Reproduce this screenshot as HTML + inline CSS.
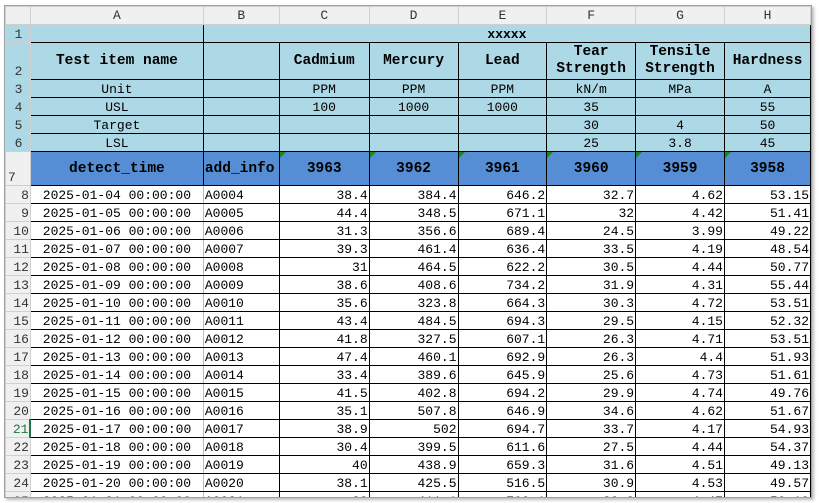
<!DOCTYPE html>
<html><head><meta charset="utf-8"><style>
body{margin:0;width:819px;height:503px;background:#fff;overflow:hidden;position:relative;font-family:"Liberation Mono","Noto Sans CJK SC",monospace;font-size:13px;}
.frame{position:absolute;left:4px;top:5px;width:806px;height:491px;overflow:hidden;border:1px solid #a0a0a0;box-shadow:2px 2px 3px #bbb;background:#fff}
table{border-collapse:collapse;table-layout:fixed;position:absolute;left:0;top:0}
td{padding:0 1px;white-space:nowrap;overflow:hidden;border:1px solid #000;line-height:14px}
tr.h td{background:#f0f0f0;border:1px solid #d0d0d0;text-align:center;color:#333;height:17px}
td.rh{background:#f0f0f0;border:1px solid #d0d0d0;color:#333;text-align:left;padding-left:2px;vertical-align:bottom;font-weight:normal;font-size:13px}
.lb td{background:#add8e6;text-align:center;vertical-align:bottom}
.b{font-weight:bold;font-size:14.5px}
.db td{background:#558ed5;font-weight:bold;font-size:14.5px;text-align:center;vertical-align:middle}
.db td.rh{background:#f0f0f0;font-weight:normal;font-size:13px;text-align:left;vertical-align:bottom}
.d td{height:17px;text-align:right;vertical-align:bottom}
.d td.a{text-align:center;border-right:1px solid #bbb}
.d td.bb{text-align:left;border-left:1px solid #bbb}
.tri{position:relative}
.tri:before{content:"";position:absolute;left:0;top:0;border-top:6px solid #1a8a1a;border-right:6px solid transparent}
</style></head><body><div class="frame">
<table>
<colgroup><col style="width:25px"><col style="width:173px"><col style="width:76px"><col style="width:90px"><col style="width:89px"><col style="width:89px"><col style="width:89px"><col style="width:89px"><col style="width:86px"></colgroup>
<tr class="h"><td></td><td>A</td><td>B</td><td>C</td><td>D</td><td>E</td><td>F</td><td>G</td><td>H</td></tr>
<tr class="lb" style="height:18px"><td class="rh">1</td><td style="border-right:1px solid #000;border-bottom:1px solid #000"></td><td colspan="7" class="b" style="text-align:center;font-size:13px">xxxxx</td></tr>
<tr class="lb" style="height:37px"><td class="rh">2</td><td class="b" style="vertical-align:middle">Test item name</td><td></td><td class="b" style="vertical-align:middle">Cadmium</td><td class="b" style="vertical-align:middle">Mercury</td><td class="b" style="vertical-align:middle">Lead</td><td class="b" style="vertical-align:middle;line-height:17px">Tear<br>Strength</td><td class="b" style="vertical-align:middle;line-height:17px">Tensile<br>Strength</td><td class="b" style="vertical-align:middle">Hardness</td></tr>
<tr class="lb" style="height:18px"><td class="rh">3</td><td>Unit</td><td></td><td>PPM</td><td>PPM</td><td>PPM</td><td>kN/m</td><td>MPa</td><td>A</td></tr>
<tr class="lb" style="height:18px"><td class="rh">4</td><td>USL</td><td></td><td>100</td><td>1000</td><td>1000</td><td>35</td><td></td><td>55</td></tr>
<tr class="lb" style="height:18px"><td class="rh">5</td><td>Target</td><td></td><td></td><td></td><td></td><td>30</td><td>4</td><td>50</td></tr>
<tr class="lb" style="height:18px"><td class="rh">6</td><td>LSL</td><td></td><td></td><td></td><td></td><td>25</td><td>3.8</td><td>45</td></tr>
<tr class="db" style="height:34px"><td class="rh">7</td><td>detect_time</td><td style="text-align:left">add_info</td><td class="tri">3963</td><td class="tri">3962</td><td class="tri">3961</td><td class="tri">3960</td><td class="tri">3959</td><td class="tri">3958</td></tr>
<tr class="d"><td class="rh">8</td><td class="a">2025-01-04 00:00:00</td><td class="bb">A0004</td><td>38.4</td><td>384.4</td><td>646.2</td><td>32.7</td><td>4.62</td><td>53.15</td></tr>
<tr class="d"><td class="rh">9</td><td class="a">2025-01-05 00:00:00</td><td class="bb">A0005</td><td>44.4</td><td>348.5</td><td>671.1</td><td>32</td><td>4.42</td><td>51.41</td></tr>
<tr class="d"><td class="rh">10</td><td class="a">2025-01-06 00:00:00</td><td class="bb">A0006</td><td>31.3</td><td>356.6</td><td>689.4</td><td>24.5</td><td>3.99</td><td>49.22</td></tr>
<tr class="d"><td class="rh">11</td><td class="a">2025-01-07 00:00:00</td><td class="bb">A0007</td><td>39.3</td><td>461.4</td><td>636.4</td><td>33.5</td><td>4.19</td><td>48.54</td></tr>
<tr class="d"><td class="rh">12</td><td class="a">2025-01-08 00:00:00</td><td class="bb">A0008</td><td>31</td><td>464.5</td><td>622.2</td><td>30.5</td><td>4.44</td><td>50.77</td></tr>
<tr class="d"><td class="rh">13</td><td class="a">2025-01-09 00:00:00</td><td class="bb">A0009</td><td>38.6</td><td>408.6</td><td>734.2</td><td>31.9</td><td>4.31</td><td>55.44</td></tr>
<tr class="d"><td class="rh">14</td><td class="a">2025-01-10 00:00:00</td><td class="bb">A0010</td><td>35.6</td><td>323.8</td><td>664.3</td><td>30.3</td><td>4.72</td><td>53.51</td></tr>
<tr class="d"><td class="rh">15</td><td class="a">2025-01-11 00:00:00</td><td class="bb">A0011</td><td>43.4</td><td>484.5</td><td>694.3</td><td>29.5</td><td>4.15</td><td>52.32</td></tr>
<tr class="d"><td class="rh">16</td><td class="a">2025-01-12 00:00:00</td><td class="bb">A0012</td><td>41.8</td><td>327.5</td><td>607.1</td><td>26.3</td><td>4.71</td><td>53.51</td></tr>
<tr class="d"><td class="rh">17</td><td class="a">2025-01-13 00:00:00</td><td class="bb">A0013</td><td>47.4</td><td>460.1</td><td>692.9</td><td>26.3</td><td>4.4</td><td>51.93</td></tr>
<tr class="d"><td class="rh">18</td><td class="a">2025-01-14 00:00:00</td><td class="bb">A0014</td><td>33.4</td><td>389.6</td><td>645.9</td><td>25.6</td><td>4.73</td><td>51.61</td></tr>
<tr class="d"><td class="rh">19</td><td class="a">2025-01-15 00:00:00</td><td class="bb">A0015</td><td>41.5</td><td>402.8</td><td>694.2</td><td>29.9</td><td>4.74</td><td>49.76</td></tr>
<tr class="d"><td class="rh">20</td><td class="a">2025-01-16 00:00:00</td><td class="bb">A0016</td><td>35.1</td><td>507.8</td><td>646.9</td><td>34.6</td><td>4.62</td><td>51.67</td></tr>
<tr class="d"><td class="rh" style="color:#217346;border-right:2px solid #217346">21</td><td class="a">2025-01-17 00:00:00</td><td class="bb">A0017</td><td>38.9</td><td>502</td><td>694.7</td><td>33.7</td><td>4.17</td><td>54.93</td></tr>
<tr class="d"><td class="rh">22</td><td class="a">2025-01-18 00:00:00</td><td class="bb">A0018</td><td>30.4</td><td>399.5</td><td>611.6</td><td>27.5</td><td>4.44</td><td>54.37</td></tr>
<tr class="d"><td class="rh">23</td><td class="a">2025-01-19 00:00:00</td><td class="bb">A0019</td><td>40</td><td>438.9</td><td>659.3</td><td>31.6</td><td>4.51</td><td>49.13</td></tr>
<tr class="d"><td class="rh">24</td><td class="a">2025-01-20 00:00:00</td><td class="bb">A0020</td><td>38.1</td><td>425.5</td><td>516.5</td><td>30.9</td><td>4.53</td><td>49.57</td></tr>
<tr class="d"><td class="rh">25</td><td class="a">2025-01-21 00:00:00</td><td class="bb">A0021</td><td>38</td><td>411.1</td><td>700.1</td><td>30.2</td><td>4.47</td><td>50.10</td></tr>
</table></div></body></html>
